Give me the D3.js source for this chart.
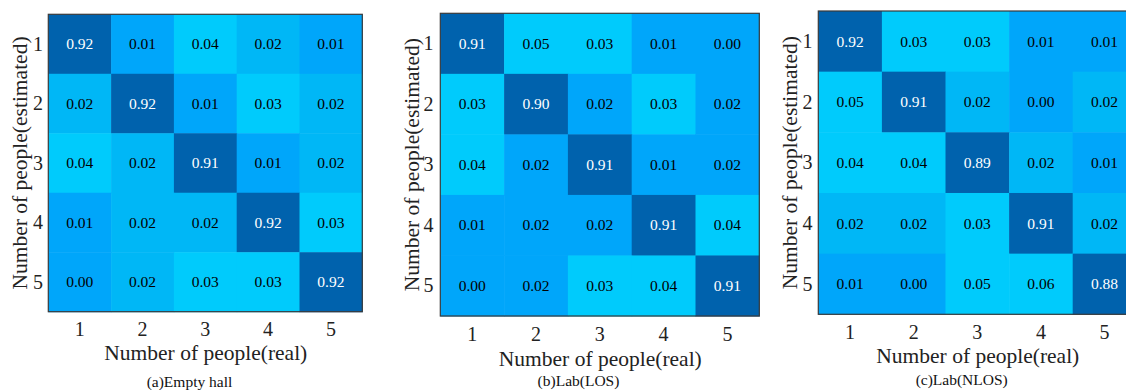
<!DOCTYPE html>
<html>
<head>
<meta charset="utf-8">
<script src="https://cdn.jsdelivr.net/npm/d3@7"></script>
<style>
  html, body { margin: 0; padding: 0; background: #fff; overflow: hidden; }
  svg { display: block; font-family: "Liberation Serif", "Times New Roman", serif; }
</style>
</head>
<body>
<svg id="chart" width="1126" height="390"></svg>
<script>
// Class labels (number of people)
const classes = ["1", "2", "3", "4", "5"];

// Confusion matrices: rows = estimated, columns = real
const emptyHall = [
  [0.92, 0.01, 0.04, 0.02, 0.01],
  [0.02, 0.92, 0.01, 0.03, 0.02],
  [0.04, 0.02, 0.91, 0.01, 0.02],
  [0.01, 0.02, 0.02, 0.92, 0.03],
  [0.00, 0.02, 0.03, 0.03, 0.92]
];
const labLOS = [
  [0.91, 0.05, 0.03, 0.01, 0.00],
  [0.03, 0.90, 0.02, 0.03, 0.02],
  [0.04, 0.02, 0.91, 0.01, 0.02],
  [0.01, 0.02, 0.02, 0.91, 0.04],
  [0.00, 0.02, 0.03, 0.04, 0.91]
];
const labNLOS = [
  [0.92, 0.03, 0.03, 0.01, 0.01],
  [0.05, 0.91, 0.02, 0.00, 0.02],
  [0.04, 0.04, 0.89, 0.02, 0.01],
  [0.02, 0.02, 0.03, 0.91, 0.02],
  [0.01, 0.00, 0.05, 0.06, 0.88]
];

const captions = ["(a)Empty hall", "(b)Lab(LOS)", "(c)Lab(NLOS)"];
const xTitle = "Number of people(real)";
const yTitle = "Number of people(estimated)";

// Colour bands of the map (low -> high)
const palette = ["#00a6fa", "#00b7f6", "#00cbfc", "#0062ad"];

// Panel geometry
const panels = [
  { data: emptyHall, caption: captions[0], breaks: [0.015, 0.025, 0.5],
    left: 48.3, top: 14.3, w: 314, h: 297.4,
    yTickX: 43, yTitleX: 27, xTickY: 336, xTitleY: 360, capX: 189.5, capY: 387 },
  { data: labLOS, caption: captions[1], breaks: [0.025, 0.025, 0.5],
    left: 440.3, top: 13.3, w: 319, h: 302.7,
    yTickX: 433.5, yTitleX: 418.5, xTickY: 340.5, xTitleY: 365.5, capX: 578.5, capY: 386 },
  { data: labNLOS, caption: captions[2], breaks: [0.015, 0.025, 0.5],
    left: 818.3, top: 11, w: 318, h: 303.3,
    yTickX: 812.5, yTitleX: 797, xTickY: 338.5, xTitleY: 363, capX: 961.7, capY: 385 }
];

const svg = d3.select("#chart");

panels.forEach(p => {
  const g = svg.append("g");
  const x = d3.scaleBand().domain(classes).range([p.left, p.left + p.w]);
  const y = d3.scaleBand().domain(classes).range([p.top, p.top + p.h]);
  const color = d3.scaleThreshold().domain(p.breaks).range(palette);

  const cells = [];
  p.data.forEach((row, i) => row.forEach((v, j) => cells.push({ r: classes[i], c: classes[j], v, diag: i === j })));

  g.selectAll("rect.cell").data(cells).join("rect")
    .attr("class", "cell")
    .attr("x", d => x(d.c))
    .attr("y", d => y(d.r))
    .attr("width", x.bandwidth() + 0.5)
    .attr("height", y.bandwidth() + 0.5)
    .attr("fill", d => color(d.v));

  g.selectAll("text.val").data(cells).join("text")
    .attr("class", "val")
    .attr("x", d => x(d.c) + x.bandwidth() / 2)
    .attr("y", d => y(d.r) + y.bandwidth() / 2)
    .attr("dy", "0.34em")
    .attr("text-anchor", "middle")
    .attr("font-size", 15.5)
    .attr("fill", d => d.diag ? "#ffffff" : "#000000")
    .text(d => d3.format(".2f")(d.v));

  // frame
  g.append("rect")
    .attr("x", p.left).attr("y", p.top)
    .attr("width", p.w).attr("height", p.h)
    .attr("fill", "none").attr("stroke", "#3a3a3a").attr("stroke-width", 1.2);

  // x axis ticks
  const xAxis = d3.axisBottom(x).tickSize(0).tickPadding(0);
  const xg = g.append("g").attr("transform", `translate(0,${p.xTickY})`).call(xAxis);
  xg.select(".domain").remove();
  xg.selectAll("text").attr("dy", 0).attr("font-size", 20)
    .attr("font-family", "Liberation Serif").attr("fill", "#222");

  // y axis ticks
  const yAxis = d3.axisLeft(y).tickSize(0).tickPadding(0);
  const yg = g.append("g").attr("transform", `translate(${p.yTickX},0)`).call(yAxis);
  yg.select(".domain").remove();
  yg.selectAll("text").attr("dy", "0.33em").attr("x", 0).attr("font-size", 20)
    .attr("font-family", "Liberation Serif").attr("fill", "#222");

  // axis titles
  g.append("text")
    .attr("x", p.left + 5 * x.bandwidth() / 2 + 0.5).attr("y", p.xTitleY)
    .attr("text-anchor", "middle").attr("font-size", 21.5).attr("fill", "#222")
    .text(xTitle);

  g.append("text")
    .attr("transform", `translate(${p.yTitleX},${p.top + p.h / 2}) rotate(-90)`)
    .attr("text-anchor", "middle").attr("font-size", 21.5).attr("fill", "#222")
    .text(yTitle);

  // caption
  g.append("text")
    .attr("x", p.capX).attr("y", p.capY)
    .attr("text-anchor", "middle").attr("font-size", 15.5).attr("fill", "#111")
    .text(p.caption);
});
</script>
</body>
</html>
